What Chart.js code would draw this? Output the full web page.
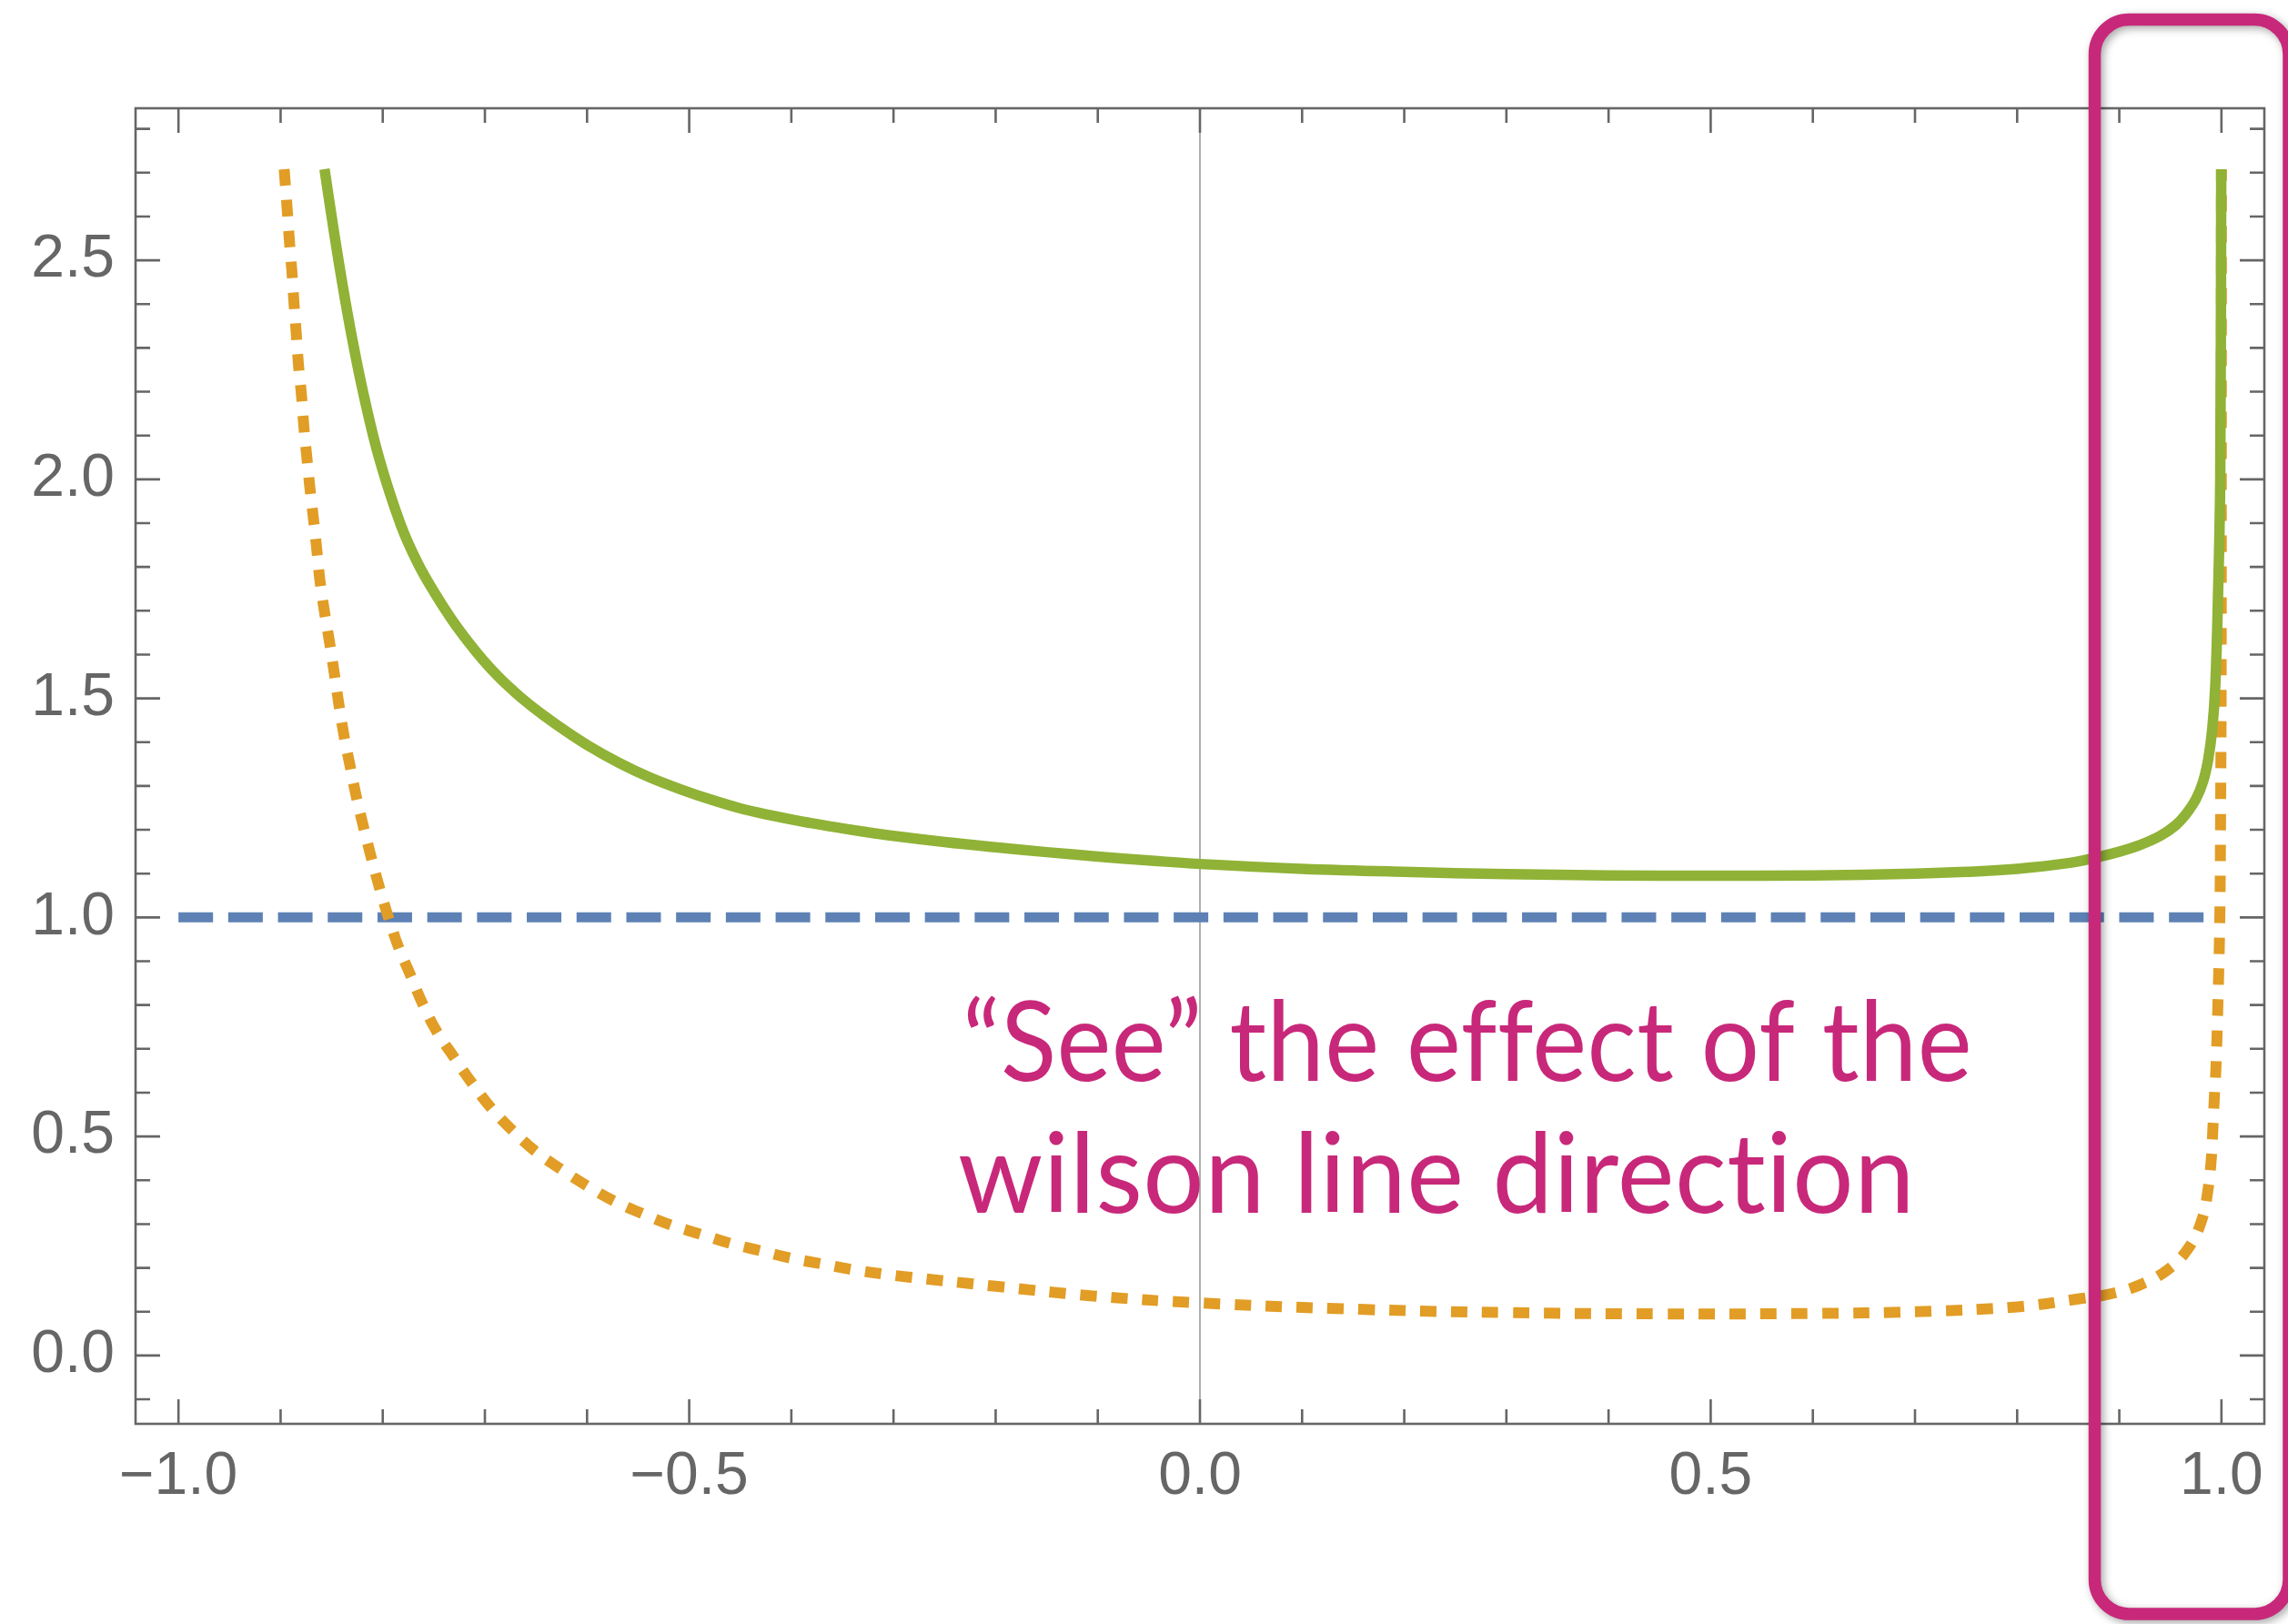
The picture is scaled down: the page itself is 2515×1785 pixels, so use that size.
<!DOCTYPE html>
<html>
<head>
<meta charset="utf-8">
<script src="https://cdn.jsdelivr.net/npm/chart.js@4.4.1/dist/chart.umd.min.js"></script>
<style>
  html, body { margin: 0; padding: 0; background: #ffffff; }
  #wrap { width: 2515px; height: 1785px; position: relative; }
</style>
</head>
<body>
<div id="wrap"><canvas id="c" width="2515" height="1785"></canvas></div>
<script>
// ---- data ----
const greenX = [-0.857, -0.8475, -0.839, -0.8295, -0.8185, -0.8035, -0.7825, -0.766, -0.749, -0.733,
  -0.717, -0.702, -0.687, -0.672, -0.658, -0.643, -0.628, -0.598, -0.568, -0.539, -0.509, -0.479,
  -0.45, -0.42, -0.39, -0.36, -0.33, -0.30, -0.25, -0.20, -0.15, -0.10, -0.05, 0.0,
  0.1, 0.2, 0.3, 0.4, 0.5, 0.6, 0.7, 0.75, 0.8,
  0.85, 0.876, 0.9, 0.92, 0.94, 0.955, 0.965, 0.975, 0.982, 0.987, 0.991, 0.994, 0.9966, 0.9988, 0.9998];
const greenY = [2.708, 2.561, 2.439, 2.316, 2.191, 2.048, 1.897, 1.810, 1.740, 1.682,
  1.631, 1.588, 1.550, 1.517, 1.489, 1.462, 1.437, 1.391, 1.352, 1.320, 1.293, 1.269,
  1.249, 1.233, 1.219, 1.207, 1.196, 1.186, 1.172, 1.160, 1.149, 1.139, 1.130, 1.122,
  1.111, 1.104, 1.099, 1.096, 1.095, 1.096, 1.100, 1.104, 1.111,
  1.124, 1.136, 1.150, 1.165, 1.186, 1.210, 1.235, 1.270, 1.310, 1.360, 1.430, 1.530, 1.730, 2.000, 2.708];

const orangeX = [-0.8965, -0.8936, -0.8915, -0.889, -0.887, -0.8847, -0.8826, -0.8796, -0.8773, -0.8743,
  -0.8713, -0.8678, -0.8645, -0.8615, -0.857, -0.852, -0.8475, -0.843, -0.838, -0.832,
  -0.826, -0.819, -0.8115, -0.8035, -0.795, -0.785, -0.773, -0.761, -0.7475, -0.730,
  -0.713, -0.695, -0.674, -0.651, -0.626, -0.6005, -0.574, -0.547, -0.518, -0.489,
  -0.460, -0.430, -0.400, -0.370, -0.340, -0.310, -0.285, -0.20, -0.105, 0.0,
  0.162, 0.30, 0.45, 0.60, 0.70, 0.80, 0.8625, 0.892, 0.920, 0.947,
  0.968, 0.981, 0.987, 0.990, 0.9916, 0.993, 0.9945, 0.9965, 0.9984, 0.9992, 0.9997, 0.9999, 1.0];
const orangeY = [2.708, 2.618, 2.548, 2.476, 2.406, 2.334, 2.264, 2.193, 2.122, 2.050,
  1.980, 1.909, 1.838, 1.769, 1.697, 1.627, 1.558, 1.487, 1.416, 1.346,
  1.277, 1.208, 1.139, 1.070, 1.004, 0.935, 0.869, 0.803, 0.741, 0.680,
  0.623, 0.568, 0.516, 0.467, 0.426, 0.388, 0.353, 0.325, 0.298, 0.277,
  0.256, 0.239, 0.222, 0.209, 0.196, 0.186, 0.179, 0.158, 0.136, 0.120,
  0.105, 0.098, 0.095, 0.096, 0.100, 0.111, 0.130, 0.141, 0.161, 0.195,
  0.246, 0.311, 0.381, 0.447, 0.517, 0.587, 0.650, 0.800, 1.000, 1.250, 1.500, 2.000, 2.708];

const blueX = [-1.0, 1.0];
const blueY = [1.0, 1.0];

const xTickValues = [-1.0, -0.5, 0.0, 0.5, 1.0];
const yTickValues = [0.0, 0.5, 1.0, 1.5, 2.0, 2.5];

const noteLines = ['\u201CSee\u201D the effect of the', 'wilson line direction'];

// ---- styling ----
const FRAME = '#666666';
const MAGENTA = '#C8287A';
const toPts = (xs, ys) => xs.map((x, i) => ({ x, y: ys[i] }));
const fmt = v => (v < 0 ? '\u2212' : '') + Math.abs(v).toFixed(1);

// frame box with inward major/minor ticks on all four sides, plus the x = 0 axis line
const framePlugin = {
  id: 'frame',
  beforeDatasetsDraw(chart) {
    const { ctx, chartArea: a, scales: { x } } = chart;
    ctx.save();
    ctx.strokeStyle = 'rgba(110,110,110,0.85)';
    ctx.lineWidth = 1.3;
    const px = x.getPixelForValue(0);
    ctx.beginPath(); ctx.moveTo(px, a.top); ctx.lineTo(px, a.bottom); ctx.stroke();
    ctx.restore();
  },
  afterDatasetsDraw(chart) {
    const { ctx, chartArea: a, scales: { x, y } } = chart;
    ctx.save();
    ctx.strokeStyle = FRAME;
    ctx.lineWidth = 2.6;
    ctx.lineCap = 'butt';
    ctx.strokeRect(a.left, a.top, a.right - a.left, a.bottom - a.top);
    const MAJ = 27, MIN = 16;
    ctx.beginPath();
    for (let k = -10; k <= 10; k++) {
      const v = k / 10;
      const len = (k % 5 === 0) ? MAJ : MIN;
      const p = x.getPixelForValue(v);
      ctx.moveTo(p, a.bottom); ctx.lineTo(p, a.bottom - len);
      ctx.moveTo(p, a.top); ctx.lineTo(p, a.top + len);
    }
    for (let k = -1; k <= 28; k++) {
      const v = k / 10;
      const len = (k % 5 === 0) ? MAJ : MIN;
      const p = y.getPixelForValue(v);
      ctx.moveTo(a.left, p); ctx.lineTo(a.left + len, p);
      ctx.moveTo(a.right, p); ctx.lineTo(a.right - len, p);
    }
    ctx.stroke();
    ctx.restore();
  }
};

// callout: note text and rounded highlight box
const notePlugin = {
  id: 'note',
  afterDraw(chart) {
    const { ctx } = chart;
    ctx.save();
    ctx.fillStyle = MAGENTA;
    ctx.font = '122px Lato';
    ctx.textBaseline = 'alphabetic';
    if ('letterSpacing' in ctx) ctx.letterSpacing = '0.5px'; // keeps "ti" as two letters
    const spots = [
      { x: 1058, y: 1188, w: 1110 },
      { x: 1053, y: 1333, w: 1052 }
    ];
    noteLines.forEach((t, i) => {
      const s = spots[i];
      const w = ctx.measureText(t).width;
      ctx.save();
      ctx.translate(s.x, s.y);
      ctx.scale(s.w / w, 1);
      ctx.fillText(t, 0, 0);
      ctx.restore();
    });

    const L = 2302.5, T = 21.5, R = 2516, B = 1774, r = 38;
    ctx.shadowColor = 'rgba(0,0,0,0.35)';
    ctx.shadowBlur = 10;
    ctx.shadowOffsetX = 3;
    ctx.shadowOffsetY = 3;
    ctx.strokeStyle = MAGENTA;
    ctx.lineWidth = 13.5;
    ctx.beginPath();
    ctx.moveTo(L + r, T);
    ctx.lineTo(R - r, T);
    ctx.arcTo(R, T, R, T + r, r);
    ctx.lineTo(R, B - r);
    ctx.arcTo(R, B, R - r, B, r);
    ctx.lineTo(L + r, B);
    ctx.arcTo(L, B, L, B - r, r);
    ctx.lineTo(L, T + r);
    ctx.arcTo(L, T, L + r, T, r);
    ctx.closePath();
    ctx.stroke();
    ctx.restore();
  }
};

new Chart(document.getElementById('c'), {
  type: 'line',
  data: {
    datasets: [
      {
        data: toPts(greenX, greenY),
        borderColor: '#90B236',
        borderWidth: 11.5,
        tension: 0.4,
        pointRadius: 0,
        fill: false
      },
      {
        data: toPts(orangeX, orangeY),
        borderColor: '#E19D25',
        borderWidth: 12,
        borderDash: [18, 16],
        borderCapStyle: 'butt',
        tension: 0.4,
        pointRadius: 0,
        fill: false
      },
      {
        data: toPts(blueX, blueY),
        borderColor: '#5E81B5',
        borderWidth: 11,
        borderDash: [38, 16.7],
        borderCapStyle: 'butt',
        pointRadius: 0,
        fill: false
      }
    ]
  },
  options: {
    responsive: false,
    devicePixelRatio: 1,
    animation: false,
    layout: { padding: { top: 119, right: 26, bottom: 0, left: 0 } },
    plugins: { legend: { display: false }, tooltip: { enabled: false } },
    scales: {
      x: {
        type: 'linear',
        min: -1.042,
        max: 1.042,
        grid: { display: false, drawTicks: false },
        border: { display: false },
        afterBuildTicks: s => { s.ticks = xTickValues.map(v => ({ value: v })); },
        afterFit: s => { s.height = 220; },
        ticks: {
          autoSkip: false,
          maxRotation: 0,
          padding: 19,
          color: FRAME,
          font: { family: 'Liberation Sans', size: 66 },
          callback: v => fmt(v)
        }
      },
      y: {
        type: 'linear',
        min: -0.156,
        max: 2.847,
        grid: { display: false, drawTicks: false },
        border: { display: false },
        afterBuildTicks: s => { s.ticks = yTickValues.map(v => ({ value: v })); },
        afterFit: s => { s.width = 149; },
        ticks: {
          autoSkip: false,
          padding: 23,
          color: FRAME,
          font: { family: 'Liberation Sans', size: 66 },
          callback: v => fmt(v)
        }
      }
    }
  },
  plugins: [framePlugin, notePlugin]
});
</script>
</body>
</html>
